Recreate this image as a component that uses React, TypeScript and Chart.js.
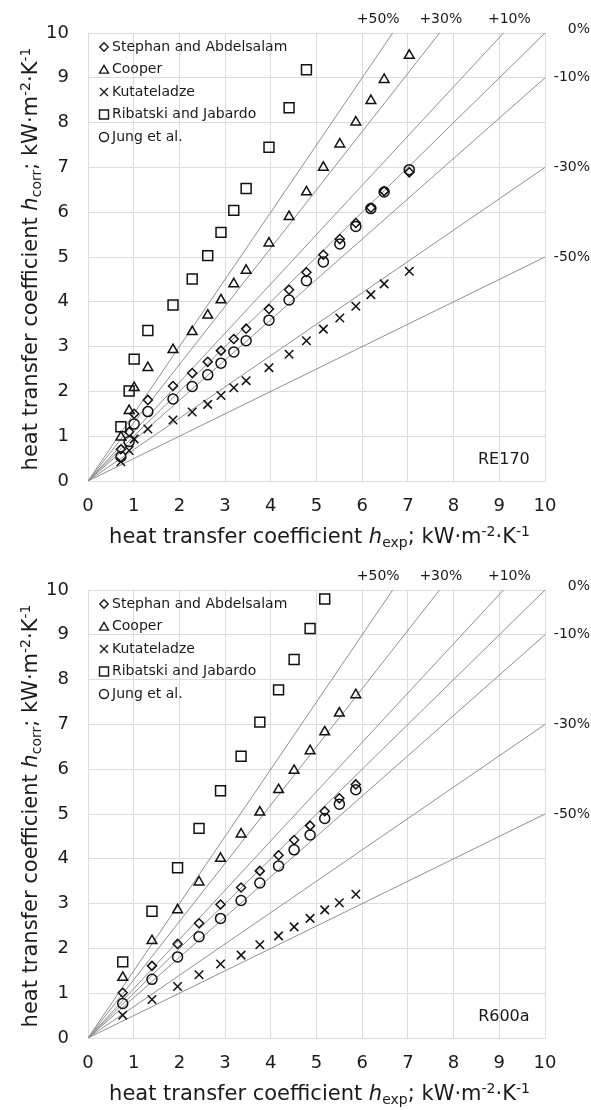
import React, { useEffect, useRef } from 'react';
import { Chart, registerables } from 'chart.js';

Chart.register(...registerables);

// ---------- DATA ----------
const xRE170 = [0.72, 0.90, 1.01, 1.31, 1.86, 2.28, 2.62, 2.91, 3.19, 3.46, 3.96, 4.40, 4.78, 5.15, 5.51, 5.86, 6.19, 6.48, 7.03];
const stephanRE170 = [0.71, 1.10, 1.50, 1.81, 2.12, 2.41, 2.66, 2.91, 3.17, 3.40, 3.84, 4.27, 4.66, 5.05, 5.40, 5.76, 6.10, 6.47, 6.89];
const cooperRE170 = [0.98, 1.57, 2.08, 2.53, 2.93, 3.33, 3.70, 4.04, 4.40, 4.70, 5.31, 5.90, 6.45, 7.00, 7.52, 8.01, 8.49, 8.96, 9.50];
const kutateladzeRE170 = [0.43, 0.68, 0.94, 1.16, 1.36, 1.54, 1.71, 1.91, 2.08, 2.24, 2.53, 2.83, 3.13, 3.39, 3.64, 3.90, 4.16, 4.40, 4.68];
const ribatskiRE170 = [1.21, 2.01, 2.72, 3.36, 3.93, 4.51, 5.03, 5.55, 6.04, 6.53, 7.45, 8.33, 9.18];
const jungRE170 = [0.54, 0.88, 1.27, 1.55, 1.83, 2.11, 2.37, 2.63, 2.88, 3.13, 3.59, 4.04, 4.47, 4.89, 5.29, 5.68, 6.08, 6.45, 6.95];

const xR600a = [0.76, 1.40, 1.96, 2.43, 2.90, 3.35, 3.76, 4.17, 4.51, 4.86, 5.18, 5.50, 5.86];
const stephanR600a = [1.01, 1.61, 2.10, 2.56, 2.98, 3.36, 3.73, 4.08, 4.42, 4.74, 5.06, 5.35, 5.66];
const cooperR600a = [1.35, 2.17, 2.86, 3.48, 4.01, 4.55, 5.04, 5.54, 5.97, 6.41, 6.83, 7.25, 7.66];
const kutateladzeR600a = [0.51, 0.86, 1.15, 1.41, 1.65, 1.85, 2.08, 2.28, 2.48, 2.67, 2.86, 3.02, 3.21];
const ribatskiR600a = [1.70, 2.83, 3.80, 4.68, 5.52, 6.29, 7.05, 7.77, 8.45, 9.14, 9.80];
const jungR600a = [0.77, 1.31, 1.81, 2.26, 2.67, 3.07, 3.46, 3.84, 4.20, 4.53, 4.90, 5.22, 5.54];

const seriesNames = ['Stephan and Abdelsalam', 'Cooper', 'Kutateladze', 'Ribatski and Jabardo', 'Jung et al.'];
const deviationFactors = [1.5, 1.3, 1.1, 1.0, 0.9, 0.7, 0.5];
const topDevLabels = ['+50%', '+30%', '+10%'];
const topDevLabelX = [6.35, 7.72, 9.22];
const rightDevLabels = ['0%', '-10%', '-30%', '-50%'];
const rightDevLabelY = [10.08, 9, 7, 5];
const axisTicks = { min: 0, max: 10, step: 1 };

const FONT = "'DejaVu Sans', Verdana, sans-serif";
const TEXT = '#1a1a1a';

type Style = 'rectRot' | 'triangle' | 'crossRot' | 'rect' | 'circle';
const styles: Style[] = ['rectRot', 'triangle', 'crossRot', 'rect', 'circle'];
const radii = [4.5, 5.6, 6, 7, 5];

function drawMarker(ctx: CanvasRenderingContext2D, style: Style, x: number, y: number) {
  ctx.beginPath();
  if (style === 'rectRot') {
    const r = 4.2;
    ctx.moveTo(x, y - r); ctx.lineTo(x + r, y); ctx.lineTo(x, y + r); ctx.lineTo(x - r, y); ctx.closePath();
  } else if (style === 'triangle') {
    const r = 5.2;
    for (let i = 0; i < 3; i++) {
      const a = i * 2 * Math.PI / 3;
      const px = x + Math.sin(a) * r, py = y + 1 - Math.cos(a) * r;
      if (i === 0) ctx.moveTo(px, py); else ctx.lineTo(px, py);
    }
    ctx.closePath();
  } else if (style === 'crossRot') {
    const r = 4;
    ctx.moveTo(x - r, y - r); ctx.lineTo(x + r, y + r);
    ctx.moveTo(x + r, y - r); ctx.lineTo(x - r, y + r);
  } else if (style === 'rect') {
    const r = 4.5;
    ctx.rect(x - r, y - r, 2 * r, 2 * r);
  } else {
    ctx.arc(x, y, 4.5, 0, Math.PI * 2);
  }
  ctx.stroke();
}

type Run = { t: string; kind?: 'it' | 'sub' | 'sup' };
function titleRuns(sub: string): Run[] {
  return [
    { t: 'heat transfer coefficient ' },
    { t: 'h', kind: 'it' },
    { t: sub, kind: 'sub' },
    { t: '; kW·m' },
    { t: '-2', kind: 'sup' },
    { t: '·K' },
    { t: '-1', kind: 'sup' },
  ];
}
function fontFor(r: Run) {
  if (r.kind === 'it') return `italic 21px ${FONT}`;
  if (r.kind === 'sub' || r.kind === 'sup') return `14px ${FONT}`;
  return `21px ${FONT}`;
}
function drawRuns(ctx: CanvasRenderingContext2D, runs: Run[], cx: number, cy: number) {
  ctx.textBaseline = 'middle';
  ctx.textAlign = 'left';
  let total = 0;
  for (const r of runs) { ctx.font = fontFor(r); total += ctx.measureText(r.t).width; }
  let x = cx - total / 2;
  for (const r of runs) {
    ctx.font = fontFor(r);
    const dy = r.kind === 'sub' ? 5 : r.kind === 'sup' ? -6 : 0;
    ctx.fillText(r.t, x, cy + dy);
    x += ctx.measureText(r.t).width;
  }
}

function makeOverlay(name: string, ySub: string, xSub: string) {
  return {
    id: 'overlay_' + name,
    afterDraw(chart: any) {
      const ctx: CanvasRenderingContext2D = chart.ctx;
      const area = chart.chartArea;
      const xs = chart.scales.x, ys = chart.scales.y;
      ctx.save();
      ctx.fillStyle = TEXT;
      ctx.strokeStyle = TEXT;
      // legend
      ctx.lineWidth = 1.4;
      seriesNames.forEach((n, i) => {
        const cy = area.top + 14 + i * 22.5;
        drawMarker(ctx, styles[i], area.left + 16, cy);
        ctx.font = `14px ${FONT}`;
        ctx.textBaseline = 'middle';
        ctx.textAlign = 'left';
        ctx.fillText(n, area.left + 24, cy);
      });
      // refrigerant label
      ctx.font = `16px ${FONT}`;
      ctx.textAlign = 'center';
      ctx.fillText(name, xs.getPixelForValue(9.1), area.bottom - 21);
      // deviation labels
      ctx.font = `14px ${FONT}`;
      topDevLabels.forEach((l, i) => {
        ctx.textAlign = 'center';
        ctx.fillText(l, xs.getPixelForValue(topDevLabelX[i]), area.top - 14);
      });
      rightDevLabels.forEach((l, i) => {
        ctx.textAlign = 'right';
        ctx.fillText(l, chart.width - 1, ys.getPixelForValue(rightDevLabelY[i]));
      });
      // axis titles
      drawRuns(ctx, titleRuns(xSub), (area.left + area.right) / 2 + 3, area.bottom + 57);
      ctx.translate(32, (area.top + area.bottom) / 2 + 2);
      ctx.rotate(-Math.PI / 2);
      drawRuns(ctx, titleRuns(ySub), 0, 0);
      ctx.restore();
    },
  };
}

function buildConfig(name: string, xs: number[], series: number[][]) {
  const lineSets = deviationFactors.map((f) => ({
    type: 'line' as const,
    data: [{ x: 0, y: 0 }, { x: axisTicks.max, y: axisTicks.max * f }],
    borderColor: '#8f8f8f',
    borderWidth: 1,
    pointRadius: 0,
    fill: false,
    order: 10,
  }));
  const scatterSets = series.map((ys, i) => ({
    type: 'scatter' as const,
    label: seriesNames[i],
    data: ys.map((y, j) => ({ x: xs[j], y })),
    pointStyle: styles[i],
    pointRadius: radii[i],
    pointBorderWidth: 1.5,
    pointBorderColor: '#111',
    pointBackgroundColor: 'rgba(0,0,0,0)',
    order: 1,
  }));
  const grid = { color: '#dcdcdc', lineWidth: 1, drawTicks: false };
  const border = { color: '#dcdcdc', width: 1 };
  return {
    type: 'scatter' as const,
    data: { datasets: [...scatterSets, ...lineSets] },
    options: {
      responsive: false,
      animation: false as const,
      events: [],
      layout: { padding: { left: 0, right: 46, top: 33, bottom: 0 } },
      plugins: { legend: { display: false }, tooltip: { enabled: false } },
      scales: {
        x: {
          type: 'linear' as const,
          min: axisTicks.min, max: axisTicks.max,
          ticks: { stepSize: axisTicks.step, font: { family: FONT, size: 18 }, color: TEXT, padding: 15 },
          grid, border,
          afterFit: (s: any) => { s.height = 72; },
        },
        y: {
          type: 'linear' as const,
          min: axisTicks.min, max: axisTicks.max,
          ticks: { stepSize: axisTicks.step, font: { family: FONT, size: 18 }, color: TEXT, padding: 19 },
          grid, border,
          afterFit: (s: any) => { s.width = 88; },
        },
      },
    },
    plugins: [makeOverlay(name, 'corr', 'exp')],
  };
}

function Panel({ name, xs, series, top }: { name: string; xs: number[]; series: number[][]; top: number }) {
  const ref = useRef<HTMLCanvasElement>(null);
  useEffect(() => {
    if (!ref.current) return;
    const chart = new Chart(ref.current, buildConfig(name, xs, series) as any);
    return () => chart.destroy();
  }, []);
  return (
    <canvas ref={ref} width={591} height={553}
      style={{ position: 'absolute', left: 0, top, width: 591, height: 553 }} />
  );
}

export default function App() {
  return (
    <div style={{ position: 'absolute', left: 0, top: 0, width: 591, height: 1110, background: '#fff' }}>
      <Panel name="RE170" xs={xRE170} top={0}
        series={[stephanRE170, cooperRE170, kutateladzeRE170, ribatskiRE170, jungRE170]} />
      <Panel name="R600a" xs={xR600a} top={557}
        series={[stephanR600a, cooperR600a, kutateladzeR600a, ribatskiR600a, jungR600a]} />
    </div>
  );
}
